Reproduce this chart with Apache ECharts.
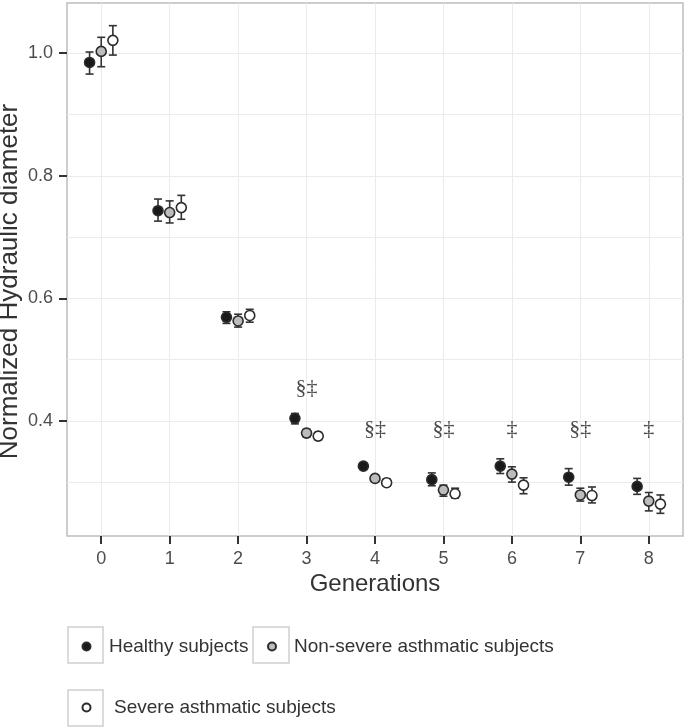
<!DOCTYPE html>
<html lang="en">
<head>
    <meta http-equiv="Content-Type" content="text/html" charset="UTF-8">
    <script type="text/javascript" src="https://cdn.jsdelivr.net/npm/echarts@6/dist/echarts.min.js"></script>
    <style>
        html, body { margin: 0; padding: 0; background: #fff; }
        #chart { width: 692px; height: 728px; }
    </style>
</head>
<body>
<div id="chart"></div>
<script type="text/javascript">
    var generations = [0, 1, 2, 3, 4, 5, 6, 7, 8];
    var yLabelTicks = [0.4, 0.6, 0.8, 1.0];
    var yGridLines = [0.3, 0.4, 0.5, 0.6, 0.7, 0.8, 0.9, 1.0];

    var healthyMean = [0.985, 0.743, 0.569, 0.404, 0.326, 0.304, 0.326, 0.308, 0.293];
    var healthyLow = [0.966, 0.726, 0.559, 0.395, 0.321, 0.294, 0.314, 0.295, 0.280];
    var healthyHigh = [1.002, 0.762, 0.578, 0.412, 0.331, 0.315, 0.338, 0.322, 0.306];

    var nonSevereMean = [1.003, 0.740, 0.563, 0.380, 0.306, 0.287, 0.313, 0.279, 0.269];
    var nonSevereLow = [0.978, 0.723, 0.553, 0.374, 0.301, 0.277, 0.300, 0.269, 0.253];
    var nonSevereHigh = [1.026, 0.759, 0.574, 0.386, 0.311, 0.295, 0.325, 0.290, 0.283];

    var severeMean = [1.021, 0.748, 0.572, 0.375, 0.299, 0.281, 0.295, 0.278, 0.264];
    var severeLow = [0.997, 0.729, 0.561, 0.369, 0.294, 0.274, 0.281, 0.266, 0.249];
    var severeHigh = [1.045, 0.768, 0.582, 0.381, 0.305, 0.290, 0.307, 0.292, 0.279];

    var signifText = ['', '', '', '§‡', '§‡', '§‡', '‡', '§‡', '‡'];
    var signifY = [null, null, null, 0.453, 0.387, 0.387, 0.387, 0.387, 0.387];

    var font = "'Liberation Sans', Arial, sans-serif";
    var dodge = 0.17;

    var groups = [
        {name: 'Healthy subjects', mean: healthyMean, low: healthyLow, high: healthyHigh, fill: '#1a1a1a', shift: -dodge},
        {name: 'Non-severe asthmatic subjects', mean: nonSevereMean, low: nonSevereLow, high: nonSevereHigh, fill: '#bcbcbc', shift: 0},
        {name: 'Severe asthmatic subjects', mean: severeMean, low: severeLow, high: severeHigh, fill: '#ffffff', shift: dodge}
    ];

    function errorBar(params, api) {
        var x = api.value(0);
        var top = api.coord([x, api.value(2)]);
        var bottom = api.coord([x, api.value(1)]);
        var w = 4;
        var st = {stroke: '#333', lineWidth: 1.6};
        return {
            type: 'group',
            children: [
                {type: 'line', shape: {x1: top[0], y1: top[1], x2: bottom[0], y2: bottom[1]}, style: st},
                {type: 'line', shape: {x1: top[0] - w, y1: top[1], x2: top[0] + w, y2: top[1]}, style: st},
                {type: 'line', shape: {x1: bottom[0] - w, y1: bottom[1], x2: bottom[0] + w, y2: bottom[1]}, style: st}
            ]
        };
    }

    var series = [];
    groups.forEach(function (g) {
        series.push({
            type: 'custom',
            renderItem: errorBar,
            encode: {x: 0, y: [1, 2]},
            data: generations.map(function (gen, i) { return [gen + g.shift, g.low[i], g.high[i]]; }),
            z: 2,
            silent: true
        });
    });
    groups.forEach(function (g) {
        series.push({
            name: g.name,
            type: 'scatter',
            symbol: 'circle',
            symbolSize: 10,
            itemStyle: {color: g.fill, borderColor: '#2b2b2b', borderWidth: 1.6, opacity: 1},
            data: generations.map(function (gen, i) { return [gen + g.shift, g.mean[i]]; }),
            z: 3
        });
    });
    series.push({
        type: 'scatter',
        symbolSize: 0,
        silent: true,
        data: generations.map(function (gen, i) { return [gen, signifY[i], signifText[i]]; })
            .filter(function (d) { return d[1] !== null; }),
        label: {
            show: true,
            position: 'inside',
            formatter: function (p) { return p.data[2]; },
            fontFamily: "'Liberation Serif', 'DejaVu Serif', serif",
            fontSize: 22,
            color: '#1a1a1a'
        },
        z: 4
    });

    var legendBase = {
        icon: 'circle',
        itemWidth: 8,
        itemHeight: 8,
        padding: 0,
        selectedMode: false,
        textStyle: {fontFamily: font, fontSize: 19, color: '#333', padding: [0, 0, 0, 13.5]}
    };

    var option = {
        animation: false,
        backgroundColor: '#ffffff',
        grid: {left: 67, right: 9, top: 3, bottom: 192, show: true, borderColor: '#bdbdbd', borderWidth: 1.5,
            containLabel: false, outerBoundsMode: 'none'},
        xAxis: {
            type: 'value',
            min: -0.5,
            max: 8.5,
            name: 'Generations',
            nameLocation: 'middle',
            nameGap: 36,
            nameMoveOverlap: false,
            nameTextStyle: {fontFamily: font, fontSize: 24, color: '#333'},
            axisLine: {show: false, onZero: false},
            axisTick: {show: true, customValues: generations, length: 8, lineStyle: {color: '#333', width: 2}},
            axisLabel: {customValues: generations, fontFamily: font, fontSize: 18, color: '#4d4d4d', margin: 14},
            splitLine: {show: true, lineStyle: {color: '#ebebeb', width: 1}}
        },
        yAxis: [{
            type: 'value',
            min: 0.212,
            max: 1.082,
            name: 'Normalized Hydraulic diameter',
            nameLocation: 'middle',
            nameGap: 44,
            nameMoveOverlap: false,
            nameTextStyle: {fontFamily: font, fontSize: 26, color: '#333', padding: [0, 24, 0, 0]},
            axisLine: {show: false, onZero: false},
            axisTick: {show: true, customValues: yLabelTicks, length: 8, lineStyle: {color: '#333', width: 2}},
            axisLabel: {customValues: yLabelTicks, fontFamily: font, fontSize: 18, color: '#4d4d4d', margin: 14,
                formatter: function (v) { return v.toFixed(1); }},
            splitLine: {show: false}
        }, {
            type: 'value',
            position: 'left',
            min: 0.212,
            max: 1.082,
            axisLine: {show: false, onZero: false},
            axisTick: {show: false, customValues: yGridLines},
            axisLabel: {show: false, customValues: yGridLines},
            splitLine: {show: true, lineStyle: {color: '#ebebeb', width: 1}}
        }],
        legend: [
            Object.assign({}, legendBase, {data: ['Healthy subjects'], left: 81.5, top: 637}),
            Object.assign({}, legendBase, {data: ['Non-severe asthmatic subjects'], left: 267, top: 637,
                textStyle: Object.assign({}, legendBase.textStyle, {padding: [0, 0, 0, 13]})}),
            Object.assign({}, legendBase, {data: ['Severe asthmatic subjects'], left: 81.5, top: 698,
                textStyle: Object.assign({}, legendBase.textStyle, {padding: [0, 0, 0, 18.5]})})
        ],
        graphic: [
            {type: 'rect', shape: {x: 68, y: 627, width: 35, height: 36}, style: {fill: 'none', stroke: '#cfcfcf', lineWidth: 1.5}, z: 0},
            {type: 'rect', shape: {x: 253, y: 627, width: 36, height: 36}, style: {fill: 'none', stroke: '#cfcfcf', lineWidth: 1.5}, z: 0},
            {type: 'rect', shape: {x: 68, y: 690, width: 35, height: 36}, style: {fill: 'none', stroke: '#cfcfcf', lineWidth: 1.5}, z: 0}
        ],
        series: series
    };

    var chart = echarts.init(document.getElementById('chart'));
    chart.setOption(option);
</script>
</body>
</html>
